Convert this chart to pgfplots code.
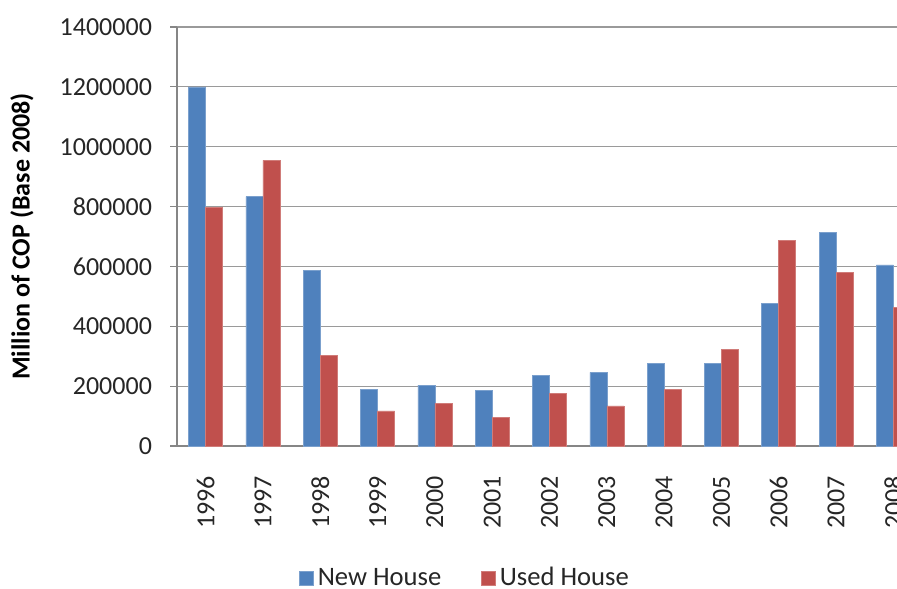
\documentclass[border=0pt]{standalone}
\usepackage{pgfplots}
\pgfplotsset{compat=1.18}
\usepackage{fontspec}
\setmainfont{Carlito}
\definecolor{newblue}{HTML}{4F81BD}
\definecolor{usedred}{HTML}{C0504D}
\definecolor{gridgray}{HTML}{9A9A9A}
\definecolor{axisgray}{HTML}{868686}
\begin{document}
\begin{tikzpicture}
\begin{axis}[
  scale only axis,
  width=372.5pt, height=209.5pt,
  at={(0,0)}, anchor=south west,
  xmin=-0.5, xmax=12.5,
  ymin=0, ymax=1400000,
  axis lines*=left,
  axis line style={axisgray, line width=0.6pt},
  ybar=0pt, bar width=8.5pt,
  xtick={0,...,12},
  xticklabels={1996,1997,1998,1999,2000,2001,2002,2003,2004,2005,2006,2007,2008},
  minor xtick={-0.5,0.5,...,12.5},
  xtick style={draw=none},
  minor x tick style={axisgray, line width=0.6pt},
  minor tick length=4.5pt,
  ytick={0,200000,400000,600000,800000,1000000,1200000,1400000},
  yticklabels={0,200000,400000,600000,800000,1000000,1200000,1400000},
  y tick style={axisgray, line width=0.6pt},
  major tick length=3.5pt,
  tick align=outside,
  ymajorgrids,
  major grid style={gridgray, line width=0.6pt},
  scaled y ticks=false,
  tick label style={font=\fontsize{13}{15}\selectfont, text=black!85},
  yticklabel style={xshift=-5.5pt},
  xticklabel style={yshift=-8pt, rotate=90, anchor=east},
  ylabel={\textbf{Million of COP (Base 2008)}},
  every axis y label/.style={at={([xshift=-77.5pt]axis description cs:0,0.5)}, rotate=90, anchor=center, font=\fontsize{13}{15}\selectfont},
  legend style={at={(0.3879,-0.315)}, anchor=center, draw=none, fill=none,
    legend columns=2, font=\fontsize{13.3}{15}\selectfont, text=black!85,
    /tikz/every even column/.append style={column sep=18pt}},
  legend image code/.code={\fill[#1] (0pt,-3.5pt) rectangle (7pt,3.5pt);},
]
\addplot[fill=newblue, draw=newblue!75!white, line width=0.3pt] coordinates {
(0,1200000) (1,833000) (2,588000) (3,189000) (4,203000) (5,185000) (6,237000)
(7,246000) (8,275000) (9,275000) (10,477000) (11,714000) (12,605000)};
\addplot[fill=usedred, draw=usedred!75!white, line width=0.3pt] coordinates {
(0,796000) (1,954500) (2,302000) (3,117000) (4,142600) (5,96000) (6,177000)
(7,134000) (8,189000) (9,323000) (10,687000) (11,580000) (12,464000)};
\legend{New House, Used House}
\end{axis}
\pgfresetboundingbox
\useasboundingbox (-88.5pt,-71pt) rectangle (360pt,223pt);
\end{tikzpicture}
\end{document}
